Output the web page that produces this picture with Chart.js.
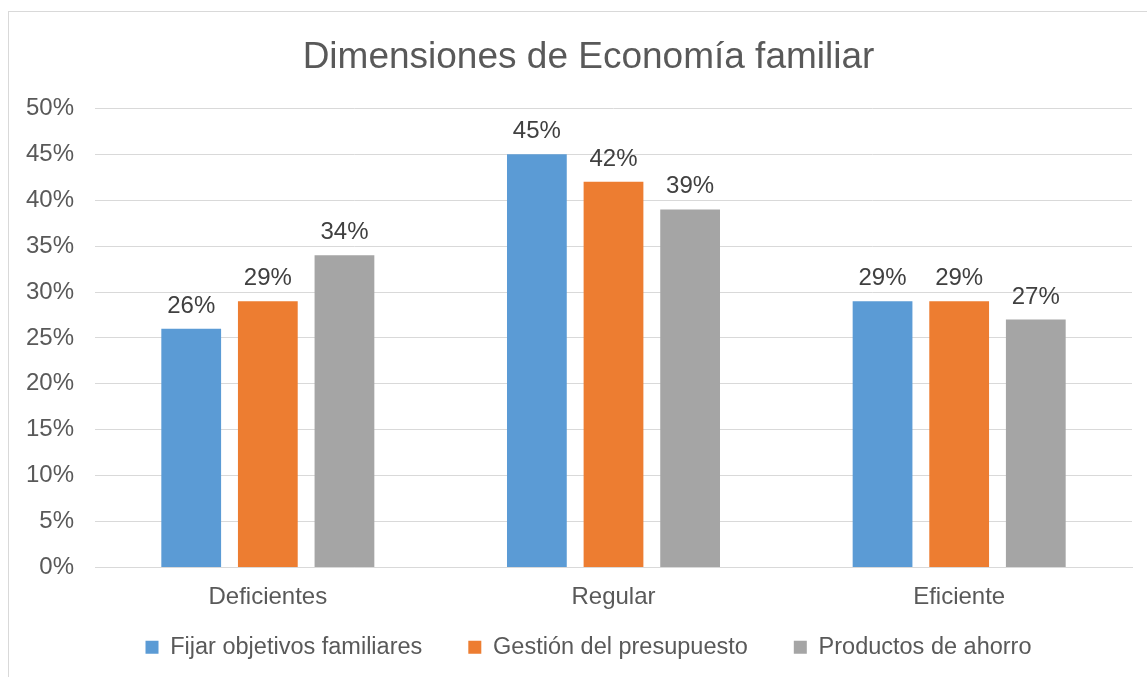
<!DOCTYPE html>
<html>
<head>
<meta charset="utf-8">
<script src="https://cdn.jsdelivr.net/npm/chart.js@4.4.0/dist/chart.umd.min.js"></script>
<style>
  html, body { margin: 0; padding: 0; background: #fff; overflow: hidden; width: 1147px; height: 677px; }
  #box { position: absolute; left: 8px; top: 11px; width: 1162px; height: 690px; border: 1px solid #d9d9d9; box-sizing: border-box; }
  #chart { display: block; }
</style>
</head>
<body>
<div id="box"><canvas id="chart" width="1159" height="657"></canvas></div>
<script>
// categories and series (percent)
var categorias = ["Deficientes", "Regular", "Eficiente"];
var objetivos = [26, 45, 29];
var presupuesto = [29, 42, 29];
var ahorro = [34, 39, 27];
var nombres = ["Fijar objetivos familiares", "Gestión del presupuesto", "Productos de ahorro"];
var colores = ["#5B9BD5", "#ED7D31", "#A5A5A5"];

var fuente = "'Liberation Sans', Arial, sans-serif";

// labels on top of the bars
var etiquetas = {
    id: "etiquetas",
    afterLayout: function (chart) {
        // x labels sit lower than the (short) axis box, don't clip them
        chart.scales.x.bottom = chart.height;
    },
    afterDatasetsDraw: function (chart) {
        var ctx = chart.ctx;
        ctx.save();
        ctx.font = "24px " + fuente;
        ctx.fillStyle = "#404040";
        ctx.textAlign = "center";
        ctx.textBaseline = "alphabetic";
        chart.data.datasets.forEach(function (ds, i) {
            var meta = chart.getDatasetMeta(i);
            meta.data.forEach(function (bar, j) {
                ctx.fillText(ds.data[j] + "%", bar.x, bar.y - 16);
            });
        });
        ctx.restore();
    }
};

var series = [objetivos, presupuesto, ahorro];
var datasets = series.map(function (s, i) {
    return {
        label: nombres[i],
        data: s,
        backgroundColor: colores[i],
        categoryPercentage: 0.665,
        barPercentage: 0.78
    };
});

new Chart(document.getElementById("chart"), {
    type: "bar",
    data: { labels: categorias, datasets: datasets },
    plugins: [etiquetas],
    options: {
        responsive: false,
        animation: false,
        layout: { padding: 0 },
        plugins: {
            title: {
                display: true,
                text: "Dimensiones de Economía familiar",
                color: "#595959",
                font: { family: fuente, size: 37, weight: "normal" },
                padding: { top: 24, bottom: 28 }
            },
            legend: {
                position: "bottom",
                labels: {
                    color: "#595959",
                    font: { family: fuente, size: 23.5 },
                    boxWidth: 13,
                    boxHeight: 13,
                    padding: 46
                }
            },
            tooltip: { enabled: false }
        },
        scales: {
            x: {
                afterFit: function (scale) { scale.height = 22; },
                grid: { display: false, drawTicks: false },
                border: { display: true, color: "#d9d9d9", width: 1 },
                ticks: { color: "#595959", font: { family: fuente, size: 24 }, padding: 15 }
            },
            y: {
                min: 0,
                max: 50,
                afterFit: function (scale) { scale.width = 86; },
                grid: { color: "#d9d9d9", drawTicks: false },
                border: { display: false },
                ticks: {
                    stepSize: 5,
                    color: "#595959",
                    font: { family: fuente, size: 24 },
                    padding: 21,
                    callback: function (v) { return v + "%"; }
                }
            },
            // empty right margin of the plot
            derecha: {
                type: "linear",
                position: "right",
                afterFit: function (scale) { scale.width = 36; },
                grid: { display: false, drawTicks: false },
                border: { display: false },
                ticks: { display: false }
            }
        }
    }
});
</script>
</body>
</html>
